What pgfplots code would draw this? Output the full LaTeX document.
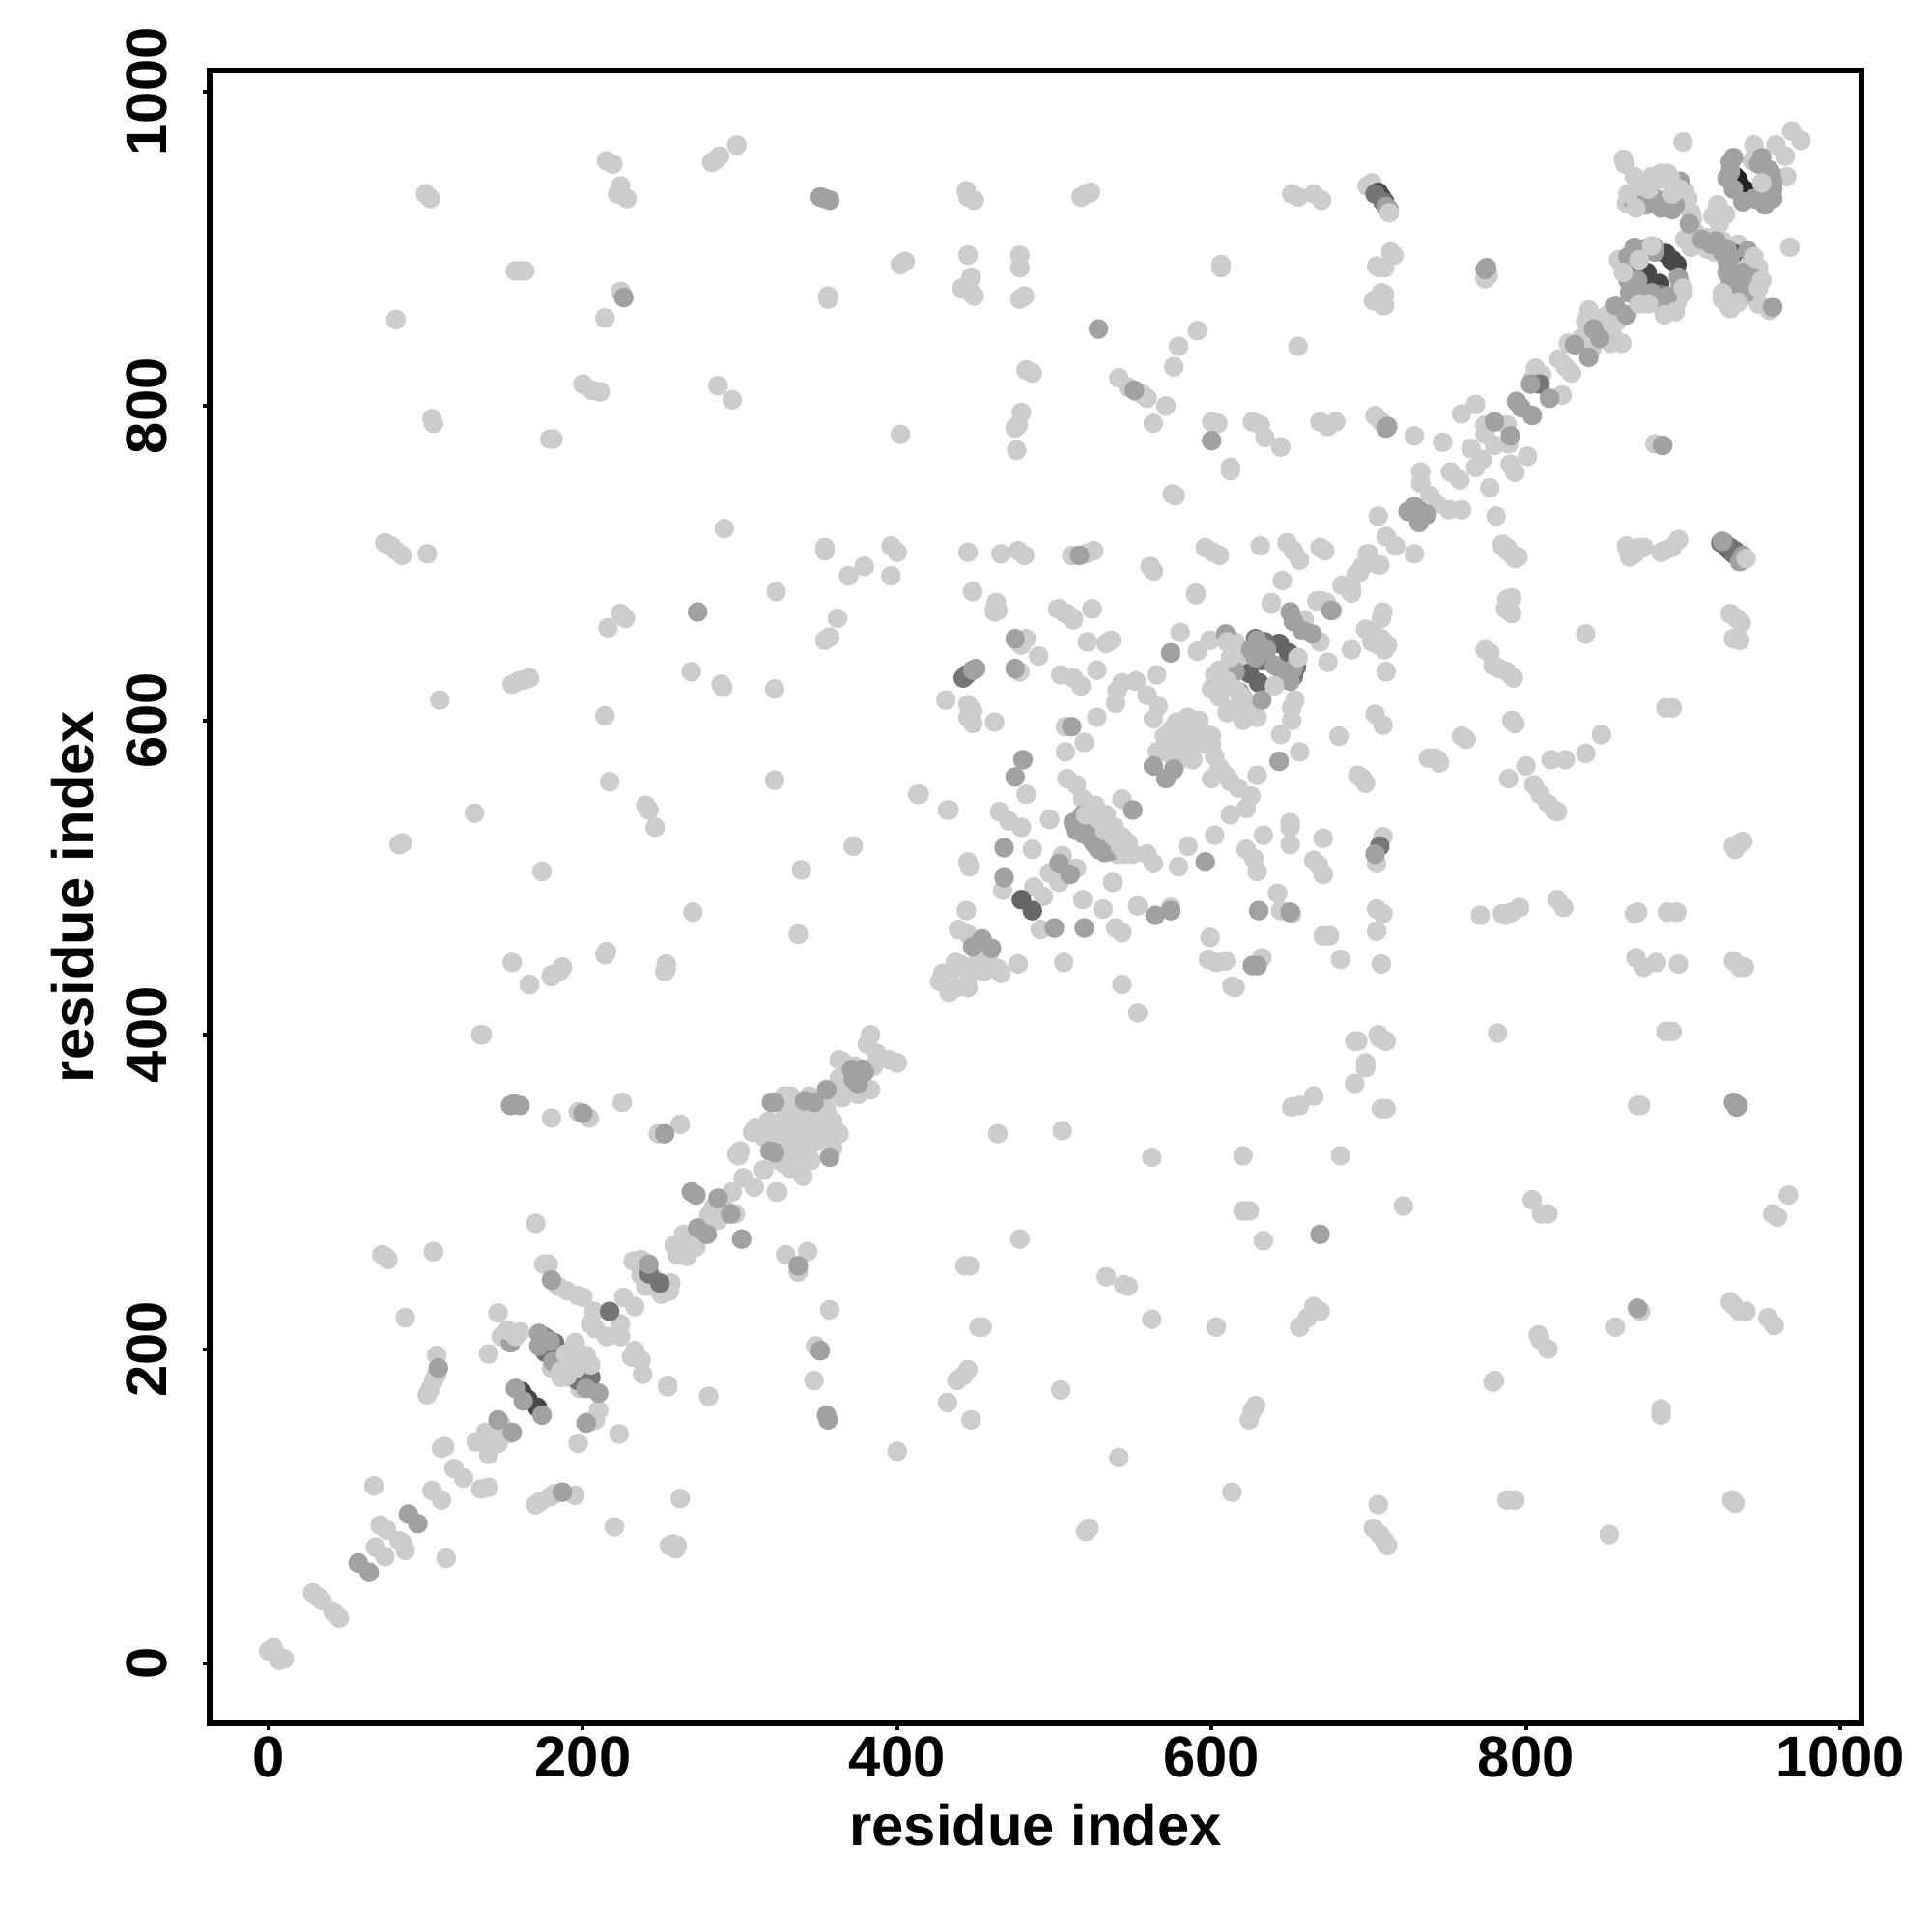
\documentclass[border=0pt]{standalone}
\usepackage{fontspec}
\setmainfont{Liberation Sans}
\usepackage{pgfplots}
\pgfplotsset{compat=1.18}
\begin{document}
\begin{tikzpicture}
\path (-2.17,-2.16) rectangle (17.83,17.84);
\begin{axis}[
  scale only axis, width=17.10cm, height=17.11cm,
  at={(0,0)}, anchor=south west,
  xmin=-37.5, xmax=1013.5, ymin=-38.1, ymax=1013.5,
  xtick={0,200,400,600,800,1000}, ytick={0,200,400,600,800,1000},
  tick pos=left, tick align=outside, major tick length=0.07cm,
  tick style={line width=0.04cm,black},
  axis line style={line width=0.055cm},
  axis on top,
  /pgf/number format/assume math mode=true,
  /pgf/number format/1000 sep={},
  tick label style={font=\fontsize{17}{20}\selectfont\bfseries},
  xticklabel style={anchor=north,yshift=0.06cm},
  yticklabel style={rotate=90,anchor=south,yshift=0.24cm},
  label style={font=\fontsize{17}{20}\selectfont\bfseries},
  xlabel={residue index}, ylabel={residue index},
  xlabel style={at={(axis description cs:0.5,-0.0612)},anchor=center},
  ylabel style={at={(axis description cs:-0.0828,0.5)},anchor=center,rotate=0},
  every axis plot/.style={only marks,mark=*,mark size=2.7pt,mark options={draw=none}},
]
% light points
\addplot[color={rgb,1:red,0.8;green,0.8;blue,0.8}] coordinates {
(3,10)(0,8)(10,3)(7,2)(28,45)(32,42)(34,40)(41,33)(45,29)(67,113)(113,67)(71,88)(75,85)(85,77)(87,72)(68,74)(74,68)(83,78)
(104,110)(110,104)(118,124)(124,118)(135,111)(140,112)(110,137)(112,138)(132,141)(138,147)(140,133)(146,140)(141,141)(148,152)(152,146)
(146,223)(148,208)(153,208)(160,211)(140,197)(107,196)(107,184)(105,180)(103,175)(101,171)(87,220)(74,259)(76,257)(72,260)(105,262)
(180,347)(197,351)(204,347)(225,357)(248,337)(262,343)(252,440)(166,432)(180,438)(185,440)(135,400)(170,280)(175,254)(178,254)
(184,240)(190,237)(197,234)(200,233)(207,224)(226,233)(233,227)(205,216)(208,213)(215,208)(224,216)(224,208)(233,199)(237,193)(238,184)(231,195)
(254,176)(280,170)(174,202)(195,204)(192,199)(202,196)(187,195)(180,188)(186,182)(192,182)(198,175)(210,161)(208,155)(205,154)(223,146)(197,140)
(170,101)(173,103)(179,106)(182,108)(195,107)(262,105)(220,87)(255,75)(259,73)
(232,256)(237,257)(239,253)(237,247)(256,242)(255,237)(245,240)(258,266)(264,273)(266,259)(272,265)(264,263)(280,285)(286,282)(297,286)(295,300)(302,309)(309,303)(299,323)(323,300)(308,338)(315,335)(326,332)(327,322)(328,361)(329,346)
(332,361)(329,349)(310,341)(316,337)(320,329)(326,337)(332,333)(340,337)(337,322)(328,318)(332,315)(340,310)(344,361)(347,349)(344,341)(351,357)(355,361)(359,345)(363,337)(351,333)(359,328)(324,300)(300,326)(298,324)(315,314)(363,372)(367,376)(363,384)(373,380)(361,365)(371,365)(383,365)(383,400)(381,394)(387,388)(395,384)(400,382)(365,383)
(105,262)(136,400)(131,541)(85,522)(83,521)(109,613)(155,446)(166,432)(180,437)(187,443)(174,504)(214,451)(215,453)(217,561)(214,603)(240,546)(242,543)(246,532)(253,442)(253,445)(270,478)(269,631)(288,623)(289,621)(322,620)(322,562)(339,505)(337,464)
(155,623)(159,625)(163,626)(166,627)(372,520)(413,553)(433,543)(445,510)
(329,260)(343,262)(337,249)(357,225)(348,202)(347,180)(254,177)(257,76)(260,75)(400,135)(443,253)(446,253)(452,214)(454,214)(442,183)(445,187)(438,180)(432,166)(447,155)
(478,270)(464,337)(505,339)(504,174)(520,84)(522,86)(541,131)(533,246)(544,241)(547,240)(562,219)(562,322)(603,214)(613,109)(620,323)(620,288)(624,288)(633,269)(682,323)(656,355)(651,354)(665,361)(691,369)(698,379)(693,396)(707,398)(711,396)(708,353)(711,353)(722,291)(656,214)(661,220)(665,227)(669,224)(624,155)(626,161)(628,164)(706,101)(703,86)(707,82)(710,78)(712,75)(779,179)(780,180)(788,104)(793,104)(804,295)(810,286)(814,286)(808,209)(814,200)(809,206)(853,82)(857,214)(873,224)(886,162)(886,158)(933,102)(931,104)(930,230)(936,224)(940,224)(932,228)(954,220)(958,215)(957,286)(960,284)(967,298)
(871,355)(873,355)(782,401)(889,402)(893,402)
(771,476)(785,477)(791,478)(796,481)(787,476)(820,486)(824,481)(869,477)(871,478)(890,478)(896,478)(870,449)(875,443)(883,446)(897,445)(932,447)(936,443)(939,443)
(816,575)(825,575)(838,579)(848,591)(789,563)(800,571)(805,559)(809,553)(814,547)(818,543)(820,542)(738,576)(744,575)(759,590)(762,588)(791,600)(793,598)
(774,645)(777,643)(779,635)(783,633)(788,631)(792,627)(788,677)(791,678)(787,671)(791,668)(838,655)(785,712)(788,710)(791,706)(795,704)(865,708)(869,706)(875,710)(886,707)(893,710)(897,715)(940,703)
(714,898)(707,888)(705,889)(708,872)(703,867)(709,864)(776,883)(774,881)(900,968)(945,966)(959,966)(965,959)(969,975)(975,969)(966,946)(968,901)
(862,957)(863,954)(869,946)(864,929)(870,935)(880,946)(886,948)(890,948)(901,937)(903,932)(905,923)(906,919)(922,928)(927,922)(919,921)(923,916)(901,906)(905,901)(915,907)(925,905)
(944,956)(935,903)(930,901)(948,888)(948,884)(941,888)(928,872)(928,865)(944,870)(938,870)(948,865)(955,861)(872,900)(861,891)(859,893)(869,875)(876,869)(900,872)(890,862)(896,866)(897,869)
(840,861)(858,854)(852,858)(838,854)(854,840)(861,840)(827,840)(835,843)(842,837)(821,830)(829,821)(806,824)(804,817)(823,807)(768,801)(759,795)(774,788)(788,788)(774,782)(780,775)(789,776)(765,773)(772,766)(768,761)(801,768)(790,763)(793,758)(752,758)(758,753)(777,748)(781,730)(733,758)(733,751)(739,743)(743,738)(751,734)(759,734)
(706,730)(711,717)(717,711)(729,706)(699,706)(706,699)(694,694)(785,711)(793,703)(788,708)(864,711)(866,704)(872,710)(888,708)(897,715)(882,776)(704,794)(708,790)(729,781)(747,777)
(699,940)(702,942)(100,935)(103,932)(215,956)(219,954)(224,940)(222,935)(228,932)(285,957)(282,955)(287,959)(298,966)(444,937)(445,933)(449,931)(520,935)(517,933)(523,936)(651,935)(655,933)(665,935)(670,931)
(445,896)(478,896)(478,888)(402,890)(405,892)(606,890)(606,888)(160,886)(163,886)(157,886)(710,888)(716,896)(447,882)(441,875)(447,872)(449,870)(478,868)(481,870)(356,870)(356,868)(224,873)(214,856)(81,855)(704,867)(710,871)(710,864)
(591,848)(579,838)(576,825)(655,838)(482,823)(486,821)(541,818)(547,812)(555,808)(559,805)(571,800)(286,813)(295,804)(200,814)(206,810)(211,809)(104,792)(105,789)(479,796)(477,788)(475,786)(476,772)(563,789)(402,782)(600,790)(604,789)(626,790)(631,788)(634,780)(644,774)(669,790)(674,787)(679,790)(179,779)(181,779)(612,761)(612,759)(575,744)(577,743)
(290,722)(74,713)(78,711)(81,708)(85,705)(101,706)(354,708)(354,710)(396,711)(400,707)(396,692)(379,698)(369,692)(445,707)(466,706)(477,708)(481,705)(511,705)(520,706)(525,708)(561,698)(563,695)(596,710)(601,707)(605,705)(631,711)(648,713)(652,708)(656,702)(645,689)(669,710)(672,708)(692,693)(696,698)(689,684)(700,706)(707,699)(667,676)(673,675)(677,670)
(323,682)(216,659)(224,668)(227,665)(362,665)(357,653)(354,651)(448,682)(463,675)(464,670)(482,652)(478,649)(590,681)(638,675)(503,671)(508,668)(512,665)(524,671)
(462,671)(462,669)(502,671)(507,668)(512,664)(524,671)(590,680)(638,674)(659,664)(670,676)(689,681)(683,686)(709,669)(708,665)(701,656)(704,654)(708,652)(712,648)(689,645)(711,631)(674,637)(669,650)
(479,648)(490,641)(478,631)(521,650)(533,649)(536,651)(527,632)(580,656)(591,644)(599,651)(615,650)(602,629)(612,622)(625,609)(629,602)(623,611)(653,613)(651,608)(651,600)(644,591)(656,580)(629,565)(681,590)(704,604)(709,597)(742,576)(745,573)(696,563)(698,560)(693,565)
(650,535)(650,532)(633,527)(650,521)(671,525)(622,518)(627,512)(629,504)(665,511)(668,508)(671,502)(709,526)(705,509)(642,490)(651,477)(644,479)(671,463)(675,463)(705,480)(709,477)(705,466)(682,448)(708,445)(632,449)(599,462)(598,448)(603,446)(609,447)(613,431)(615,430)(553,414)(543,432)(691,396)(706,400)(711,396)(698,382)
(552,625)(543,624)(540,619)(539,611)(565,629)(559,616)(566,609)(563,601)(527,602)(507,596)(519,586)(507,580)(482,553)(414,553)(432,543)(504,629)(512,627)(517,622)(431,613)(445,610)(448,606)(445,602)(448,598)(462,599)
(578,599)(585,602)(591,597)(597,591)(600,584)(602,577)(583,593)(580,587)(587,583)(583,579)(573,579)(578,573)(600,563)(609,565)(612,561)(617,557)(625,552)(622,544)(612,540)
(508,563)(514,559)(518,550)(526,546)(543,550)(533,540)(533,534)(538,532)(543,526)(547,522)(540,515)(550,515)(559,515)(563,509)(465,542)(471,536)(479,532)(497,537)(486,518)(446,507)(467,492)(487,494)(493,488)(444,479)(439,467)(445,464)(458,450)(464,442)(477,445)(491,467)(518,486)(531,480)(539,468)(543,465)(553,482)(574,481)(505,514)(514,506)(497,503)(503,497)(537,497)(579,507)(585,520)(602,527)
(437,446)(446,438)(429,439)(433,427)(438,430)(427,434)(466,439)(506,446)
(930,668)(934,665)(937,662)(932,652)(936,651)(889,608)(893,608)(932,520)(936,522)(938,523)(933,518)
(318,345)(322,340)(330,340)(335,345)(345,330)(350,345)(338,352)(345,355)(348,340)(355,352)(335,325)(325,320)(345,320)(358,338)(365,360)(370,370)(375,362)(385,380)
(570,590)(575,595)(590,590)(595,585)(588,575)(575,585)(565,580)(592,600)(600,590)(605,570)
(440,445)(436,442)(450,445)(455,440)(445,430)(245,245)(240,240)(250,235)(260,260)(275,275)(283,290)(290,290)
(605,615)(600,620)(615,608)(620,600)(610,605)(618,640)(698,658)(702,650)(706,648)(710,645)
(905,915)(908,910)(915,900)(920,898)(905,908)(845,855)(838,845)(850,850)(855,845)(825,825)(810,820)
};
% very dark
\addplot[color={rgb,1:red,0.13;green,0.13;blue,0.13}] coordinates {(935,944)(944,934)(936,941)(940,937)(933,946)};
% dark
\addplot[color={rgb,1:red,0.28;green,0.28;blue,0.28}] coordinates {(161,173)(171,163)(165,168)(708,933)(706,936)(710,930)(928,710)(926,713)(930,708)(932,897)(877,885)(889,897)(896,890)(885,878)(874,880)(893,893)};
\addplot[color={rgb,1:red,0.4;green,0.4;blue,0.4}] coordinates {(479,486)(486,479)(643,649)(649,643)(624,630)(630,624)};
% mid-dark
\addplot[color={rgb,1:red,0.46;green,0.46;blue,0.46}] coordinates {(217,224)(182,204)(200,182)(205,182)(242,248)(249,242)(809,814)(732,733)(444,629)(442,627)(631,650)(632,638)(652,631)(707,520)(522,532)(530,528)(866,888)(868,885)(886,871)(892,931)(704,935)(709,930)(930,710)(924,713)(932,706)(933,708)(175,208)(178,206)(183,200)(176,198)(197,180)(201,178)(630,648)(628,652)(634,650)(652,628)(654,634)};
% mid
\addplot[color={rgb,1:red,0.63;green,0.63;blue,0.63}] coordinates {
(57,64)(64,58)(89,95)(95,89)(146,155)(155,147)(157,175)(162,167)(174,158)(154,204)(108,188)(156,356)(154,355)(160,355)(200,350)(252,337)(180,244)(172,210)(179,205)(172,202)(181,192)(202,175)(210,172)(202,153)(187,109)
(242,254)(273,277)(279,273)(269,300)(272,298)(286,296)(294,286)(301,270)(320,357)(319,326)(322,357)(322,325)(341,358)(347,357)(357,322)(375,369)(379,376)(371,378)(337,253)(351,199)(355,158)(356,155)(351,933)(354,932)(357,931)(226,869)
(528,849)(551,810)(712,787)(600,778)(516,705)(775,888)(774,887)(932,357)(935,355)(934,354)(871,226)(669,273)(273,669)(475,652)(475,633)(448,632)(450,633)(574,643)(609,655)(629,651)(650,669)(652,663)(676,670)(664,655)(658,657)(652,633)(646,631)(615,631)(618,618)(632,613)(643,574)(511,596)(480,575)(475,564)(563,571)(571,563)(576,569)(550,543)(518,540)(516,537)(526,532)(533,522)(536,517)(468,519)(468,500)(454,461)(460,455)(448,456)(500,468)(519,468)(564,476)(574,479)(503,509)(510,502)(596,510)(630,479)(650,478)(629,444)(626,444)(704,515)
(898,943)(904,916)(874,931)(868,931)(882,929)(888,931)(912,906)(921,905)(932,958)(930,949)(948,954)(956,948)(957,943)(957,932)(949,931)(945,932)(941,899)(928,892)(931,886)(944,882)(933,880)(931,867)(957,863)(869,901)(877,899)(882,901)(871,880)(897,882)(880,872)(857,864)(864,858)(843,849)(847,843)(831,839)(840,831)(803,814)(815,805)(794,803)(797,799)(804,794)(780,790)(790,781)(729,736)(737,731)(732,726)(725,733)(711,786)(887,775)(936,701)(713,925)(711,927)(925,714)(938,705)
(512,535)(514,530)(518,528)(522,526)(525,522)(528,518)(532,516)(538,518)(625,645)(628,640)(635,645)(640,635)(645,630)(650,625)(355,365)(372,372)(378,378)
(865,895)(870,895)(875,900)(882,898)(865,880)(866,872)(870,870)(885,865)(890,870)(898,878)(930,895)(928,885)(930,878)(935,875)(938,885)(945,878)(940,872)
(876,928)(880,934)(886,926)(893,925)(895,928)(930,955)(928,945)(932,938)(938,930)(952,928)(957,938)(955,950)(950,958)(918,903)(925,898)(928,900)
};
% light points lying over the darker ones
\addplot[color={rgb,1:red,0.8;green,0.8;blue,0.8}] coordinates {
(195,204)(189,197)(200,192)(205,190)(186,186)(190,183)(196,188)(152,212)(157,208)
(520,540)(528,537)(532,530)(538,526)(542,520)(545,515)(535,530)(525,545)
(615,620)(620,615)(610,625)(605,632)(612,640)(610,650)(655,640)(640,622)
(862,885)(900,875)(895,860)(888,858)(878,865)(872,865)(872,893)(880,902)
(945,895)(950,880)(948,875)(930,862)(935,866)(925,868)(925,872)
(872,940)(878,938)(884,944)(892,945)(898,938)(893,935)(865,935)(870,926)
(950,942)(940,703)(713,923)
};
\end{axis}
\end{tikzpicture}
\end{document}
